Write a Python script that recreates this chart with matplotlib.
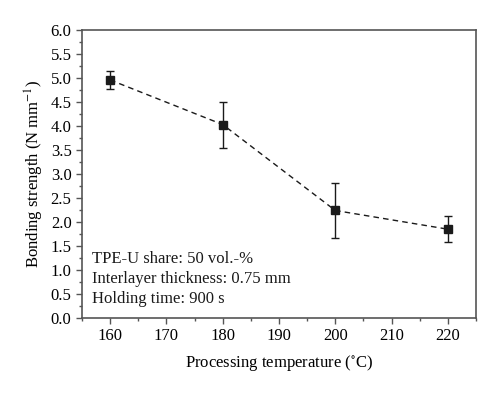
import numpy as np
import matplotlib.pyplot as plt
from matplotlib.ticker import MultipleLocator

plt.rcParams['font.family'] = ['Liberation Serif', 'DejaVu Serif']
plt.rcParams['mathtext.fontset'] = 'stix'

# data
temperature = [160, 180, 200, 220]
strength = [4.96, 4.03, 2.24, 1.85]
strength_err = [0.18, 0.48, 0.58, 0.27]
notes = ["TPE-U share: 50 vol.-%",
         "Interlayer thickness: 0.75 mm",
         "Holding time: 900 s"]

fig = plt.figure(figsize=(5, 3.95), dpi=100)
ax = fig.add_axes([0.164, 0.195, 0.788, 0.729])

ax.errorbar(temperature, strength, yerr=strength_err, color='#1a1a1a',
            linestyle='--', linewidth=1.0, dashes=(4, 3), marker='s', markersize=6,
            capsize=3, elinewidth=1.0, capthick=1.0)

ax.set_xlim(155, 225)
ax.set_ylim(0, 6)
ax.xaxis.set_major_locator(MultipleLocator(10))
ax.xaxis.set_minor_locator(MultipleLocator(5))
ax.yaxis.set_major_locator(MultipleLocator(0.5))
ax.yaxis.set_minor_locator(MultipleLocator(0.25))
ax.yaxis.set_major_formatter(plt.FormatStrFormatter('%.1f'))

for s in ax.spines.values():
    s.set_color('#555555')
    s.set_linewidth(1.2)
ax.tick_params(which='both', direction='out', color='#555555', labelsize=12)
ax.tick_params(which='major', length=4, width=1.0)
ax.tick_params(which='minor', length=2.5, width=1.0)

ax.set_xlabel('Processing temperature ($^{\\circ}$C)', fontsize=12, labelpad=6)
ax.set_ylabel('Bonding strength (N mm$^{-1}$)', fontsize=12, labelpad=3)

for i, t in enumerate(notes):
    ax.text(0.025, 0.205 - i * 0.07, t, transform=ax.transAxes,
            fontsize=12, va='center', ha='left', color='#1a1a1a')

fig.savefig('out.png', dpi=100)
